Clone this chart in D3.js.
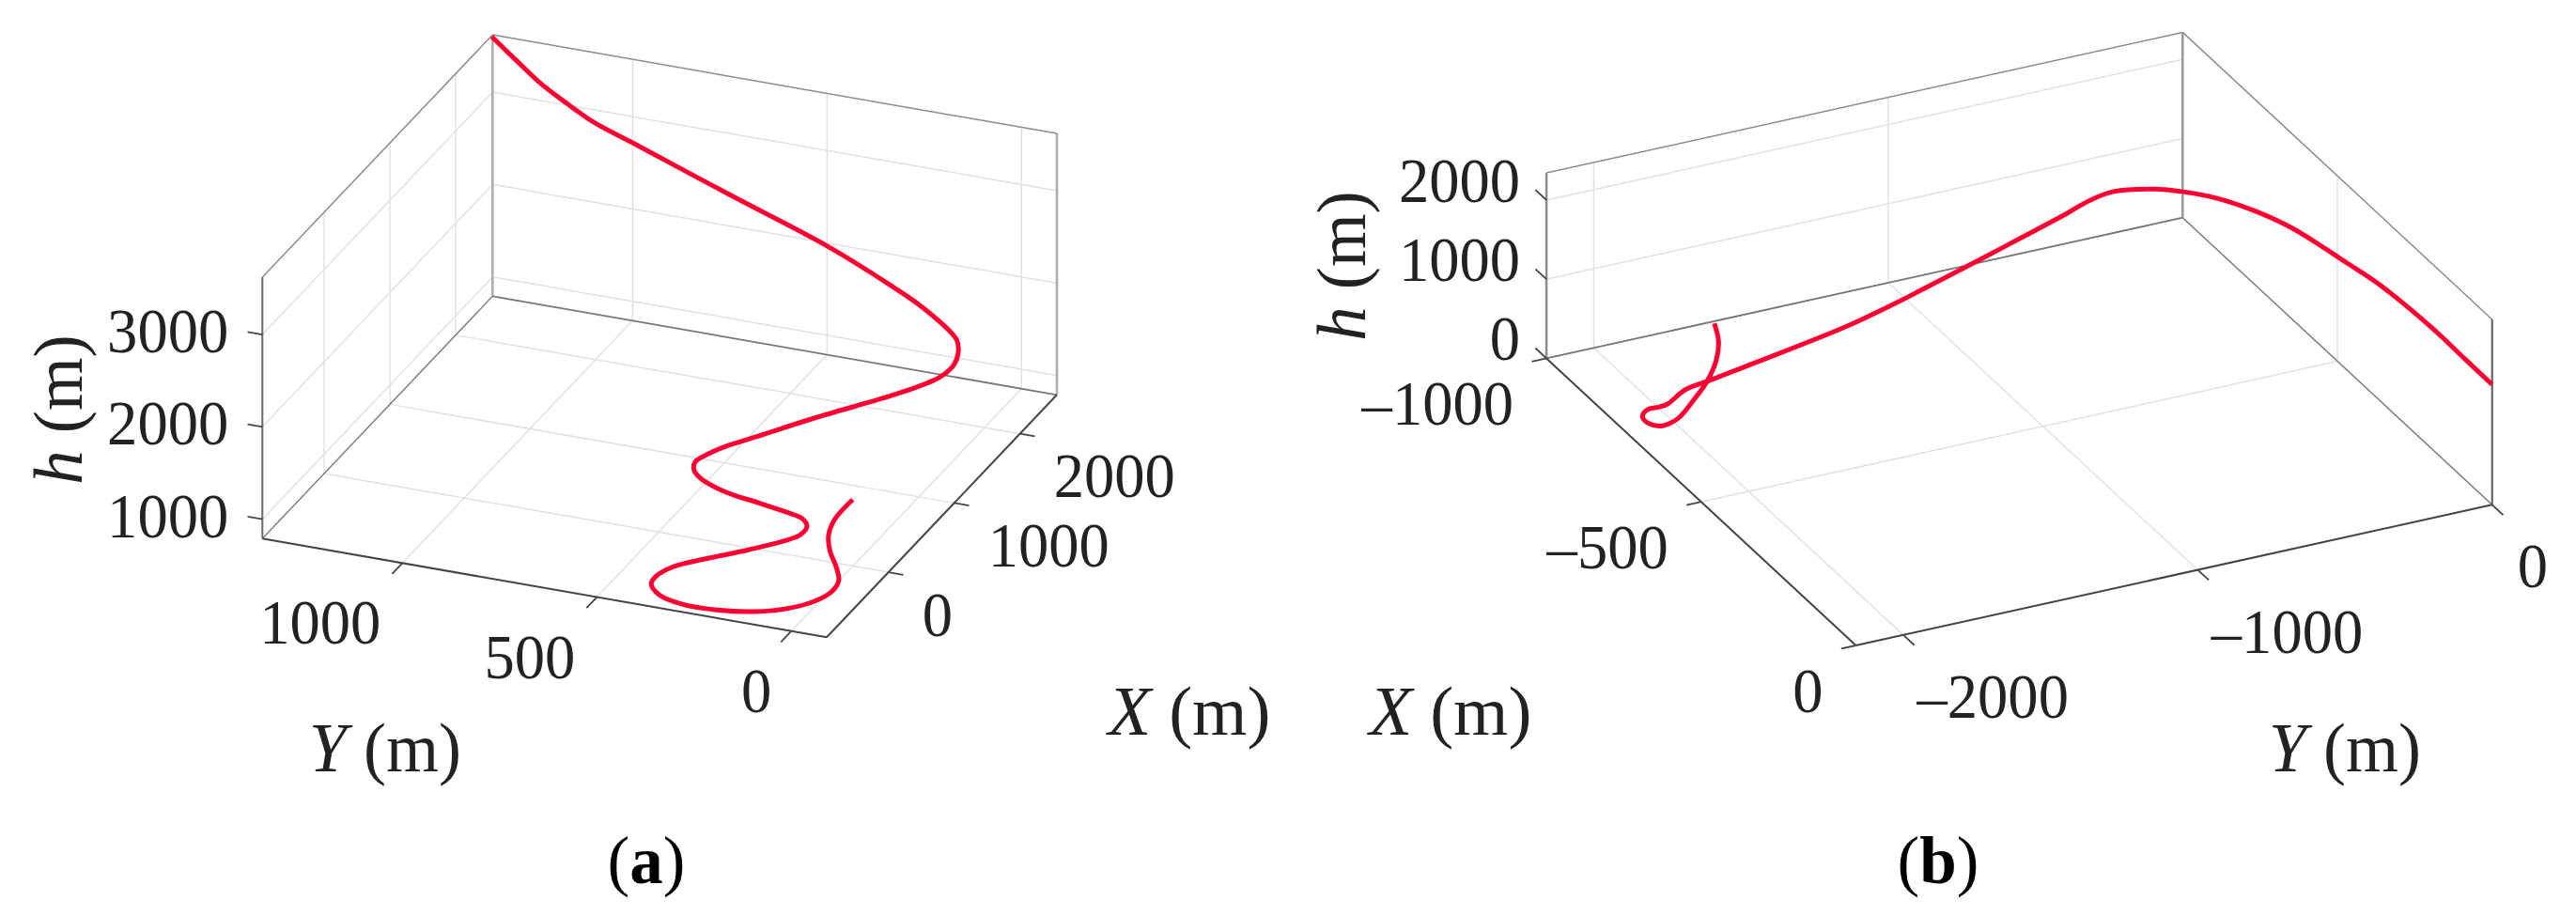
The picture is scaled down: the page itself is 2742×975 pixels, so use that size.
<!DOCTYPE html>
<html>
<head>
<meta charset="utf-8">
<script src="https://cdn.jsdelivr.net/npm/d3@7"></script>
<style>
  html, body { margin: 0; background: #fff; }
  text { font-family: "Liberation Serif", serif; fill: #222; }
</style>
</head>
<body>
<svg id="chart" width="2742" height="975"></svg>
<script>
/* trajectory (a), start to end, metres */
const aX = [2538, 2402, 2282, 2205, 2114, 2053, 1908, 1770, 1614, 1525, 1368, 1274, 1178, 1060, 965, 856, 582, 359, 238, 157, 90, 35, -7, -59, -50, -47, -34, -74, -148, -231, -366, -474, -581, -702, -786, -881, -936, -928, -863, -740, -589, -424, -260, -80, 105, 301, 515, 811];
const aY = [1358, 1270, 1186, 1109, 1021, 914, 641, 367, 172, 76, -35, -55, -60, -43, -3, 51, 198, 306, 366, 400, 421, 415, 388, 316, 236, 165, 126, 106, 110, 140, 223, 301, 364, 388, 386, 349, 279, 193, 107, 39, 0, -16, -7, 30, 77, 114, 135, 138];
const aH = [3620, 3520, 3420, 3330, 3250, 3160, 2910, 2660, 2480, 2380, 2240, 2190, 2130, 2070, 2010, 1950, 1810, 1700, 1640, 1590, 1540, 1500, 1450, 1400, 1340, 1290, 1240, 1200, 1160, 1130, 1060, 1000, 950, 920, 900, 880, 870, 868, 865, 860, 850, 840, 830, 820, 815, 810, 805, 800];

/* trajectory (b) */
const bX = [0, -77, -162, -292, -346, -450, -505, -548, -572, -586, -595, -595, -581, -557, -537, -530, -535, -579, -614, -636, -636, -644, -668, -683, -673, -669, -690, -744, -796, -865, -930, -994];
const bY = [0, -13, -30, -84, -124, -205, -276, -358, -449, -531, -660, -739, -834, -1082, -1316, -1483, -1637, -1899, -2012, -2073, -2132, -2151, -2167, -2168, -2157, -2114, -2038, -1928, -1831, -1726, -1650, -1597];
const bH = [1520, 1580, 1660, 1815, 1890, 2030, 2110, 2180, 2250, 2300, 2343, 2300, 2260, 2110, 1960, 1820, 1650, 1250, 1000, 850, 720, 670, 560, 420, 360, 310, 270, 220, 170, 110, 50, 0];

const aXTicks = [0, 1000, 2000];
const aYTicks = [0, 500, 1000];
const aHTicks = [1000, 2000, 3000];
const bXTicks = [-1000, -500, 0];
const bYTicks = [-2000, -1000, 0];
const bHTicks = [0, 1000, 2000];

const svg = d3.select("#chart");
const fmt = (v) => (v < 0 ? "\u2013" + Math.abs(v) : String(v));

function drawPanel(p) {
  const g = svg.append("g");

  const sx = d3.scaleLinear().domain(p.xDomain).range([0, 1]);
  const sy = d3.scaleLinear().domain(p.yDomain).range([0, 1]);
  const sh = d3.scaleLinear().domain(p.hDomain).range([0, 1]);
  const project = (x, y, h) => [
    p.origin[0] + sx(x) * p.vecX[0] + sy(y) * p.vecY[0] + sh(h) * p.vecH[0],
    p.origin[1] + sx(x) * p.vecX[1] + sy(y) * p.vecY[1] + sh(h) * p.vecH[1],
  ];
  const hMin = p.hDomain[0];
  const hMax = p.hDomain[1];

  function seg(a, b, stroke, width) {
    g.append("line")
      .attr("x1", a[0]).attr("y1", a[1])
      .attr("x2", b[0]).attr("y2", b[1])
      .attr("stroke", stroke)
      .attr("stroke-width", width);
  }

  /* grid: floor and the two back walls */
  const gridColor = "#e2e2e2";
  p.xTicks.forEach((t) => {
    seg(project(t, p.xAxisAtY, hMin), project(t, p.wallY, hMin), gridColor, 1.5);
    seg(project(t, p.wallY, hMin), project(t, p.wallY, hMax), gridColor, 1.5);
  });
  p.yTicks.forEach((t) => {
    seg(project(p.yAxisAtX, t, hMin), project(p.wallX, t, hMin), gridColor, 1.5);
    seg(project(p.wallX, t, hMin), project(p.wallX, t, hMax), gridColor, 1.5);
  });
  p.hTicks.forEach((t) => {
    seg(project(p.hAxis[0], p.wallY, t), project(p.wallX, p.wallY, t), gridColor, 1.5);
    seg(project(p.wallX, p.wallY, t), project(p.wallX, p.xAxisAtY, t), gridColor, 1.5);
  });

  /* box */
  const back = [p.wallX, p.wallY];
  const xEnd = [p.wallX, p.xAxisAtY];
  const yEnd = [p.yAxisAtX, p.wallY];
  const front = [p.yAxisAtX, p.xAxisAtY];
  seg(project(...back, hMin), project(...back, hMax), p.backEdge, 2.5);
  seg(project(...xEnd, hMin), project(...xEnd, hMax), p.sideEdge, 2.5);
  seg(project(...yEnd, hMin), project(...yEnd, hMax), p.sideEdge2, 2);
  seg(project(...yEnd, hMax), project(...back, hMax), "#8c8c8c", 1.5);
  seg(project(...back, hMax), project(...xEnd, hMax), "#8c8c8c", 1.5);
  seg(project(...yEnd, hMin), project(...back, hMin), "#808080", 1.5);
  seg(project(...back, hMin), project(...xEnd, hMin), "#777", 1.8);
  seg(project(...front, hMin), project(...xEnd, hMin), "#444", 2);
  seg(project(...front, hMin), project(...yEnd, hMin), "#444", 2);

  /* ticks */
  const unit = (v, len) => {
    const n = Math.hypot(v[0], v[1]);
    return [(v[0] / n) * len, (v[1] / n) * len];
  };
  const dirX = unit(p.vecX, 16);
  const dirY = unit(p.vecY, 16);
  const tick = (a, d, s) => seg(a, [a[0] + s * d[0], a[1] + s * d[1]], "#444", 1.8);

  function label(pos, str, anchor, dx, dy) {
    g.append("text")
      .attr("transform", `translate(${pos[0] + dx},${pos[1] + dy}) scale(0.95,1)`)
      .attr("text-anchor", anchor)
      .attr("font-size", 68)
      .text(str);
  }

  p.xTicks.forEach((t) => {
    const a = project(t, p.xAxisAtY, hMin);
    tick(a, dirY, p.xTickSign);
    label(a, fmt(t), p.xLabel.anchor, p.xLabel.dx, p.xLabel.dy);
  });
  p.yTicks.forEach((t) => {
    const a = project(p.yAxisAtX, t, hMin);
    tick(a, dirX, p.yTickSign);
    label(a, fmt(t), p.yLabel.anchor, t === 0 ? p.yLabel.dx0 : p.yLabel.dx, p.yLabel.dy);
  });
  p.hTicks.forEach((t) => {
    const a = project(p.hAxis[0], p.hAxis[1], t);
    tick(a, p.hTickDir === "y" ? dirY : dirX, 1);
    label(a, fmt(t), "end", p.hLabel.dx, p.hLabel.dy);
  });

  /* trajectory */
  const line = d3.line().curve(d3.curveCatmullRom.alpha(0.5));
  g.append("path")
    .attr("d", line(p.trajX.map((x, i) => project(x, p.trajY[i], p.trajH[i]))))
    .attr("fill", "none")
    .attr("stroke", "#ff0033")
    .attr("stroke-width", 5)
    .attr("stroke-linejoin", "round");

  /* axis titles */
  function title(transform, letter) {
    const t = g.append("text")
      .attr("transform", transform)
      .attr("text-anchor", "middle")
      .attr("font-size", 75);
    t.append("tspan").attr("font-style", "italic").text(letter);
    t.append("tspan").text(" (m)");
  }
  title(`translate(${p.xTitle[0]},${p.xTitle[1]})`, "X");
  title(`translate(${p.yTitle[0]},${p.yTitle[1]}) scale(0.96,1)`, "Y");
  title(`translate(${p.hTitle[0]},${p.hTitle[1]}) rotate(-90) scale(0.97,1)`, "h");

  /* panel letter */
  const cap = g.append("text")
    .attr("x", p.caption[0])
    .attr("y", p.caption[1])
    .attr("text-anchor", "middle")
    .attr("font-size", 71)
    .style("fill", "#000");
  cap.append("tspan").text("(");
  cap.append("tspan").attr("font-weight", "bold").text(p.letter);
  cap.append("tspan").text(")");
}

drawPanel({
  xDomain: [-939, 2561],
  yDomain: [-91, 1360],
  hDomain: [790, 3620],
  origin: [880, 678.3],
  vecX: [245, -258],
  vecY: [-600.7, -105],
  vecH: [0, -278.2],
  xAxisAtY: -91,
  wallY: 1360,
  yAxisAtX: -939,
  wallX: 2561,
  hAxis: [-939, 1360],
  xTicks: aXTicks,
  yTicks: aYTicks,
  hTicks: aHTicks,
  xTickSign: -1,
  yTickSign: -1,
  hTickDir: "y",
  xLabel: { anchor: "start", dx: 36, dy: 67.5 },
  yLabel: { anchor: "end", dx: -23, dx0: -21, dy: 86 },
  hLabel: { dx: -36, dy: 19 },
  backEdge: "#ababab",
  sideEdge: "#ababab",
  sideEdge2: "#6a6a6a",
  trajX: aX,
  trajY: aY,
  trajH: aH,
  xTitle: [1266, 782],
  yTitle: [410, 821],
  hTitle: [87, 436],
  caption: [688, 940],
  letter: "a",
});

drawPanel({
  xDomain: [0, -1000],
  yDomain: [0, -2161],
  hDomain: [0, 2343],
  origin: [2652.7, 537.3],
  vecX: [-329.4, -305.6],
  vecY: [-677.2, 149.7],
  vecH: [0, -197.3],
  xAxisAtY: -2161,
  wallY: 0,
  yAxisAtX: 0,
  wallX: -1000,
  hAxis: [-1000, -2161],
  xTicks: bXTicks,
  yTicks: bYTicks,
  hTicks: bHTicks,
  xTickSign: 1,
  yTickSign: -1,
  hTickDir: "x",
  xLabel: { anchor: "end", dx: -35, dy: 71 },
  yLabel: { anchor: "start", dx: 14.5, dx0: 27, dy: 88 },
  hLabel: { dx: -28, dy: 2 },
  backEdge: "#9a9a9a",
  sideEdge: "#8c8c8c",
  sideEdge2: "#5a5a5a",
  trajX: bX,
  trajY: bY,
  trajH: bH,
  xTitle: [1544, 782],
  yTitle: [2496, 821],
  hTitle: [1453, 283],
  caption: [2063, 940],
  letter: "b",
});
</script>
</body>
</html>
